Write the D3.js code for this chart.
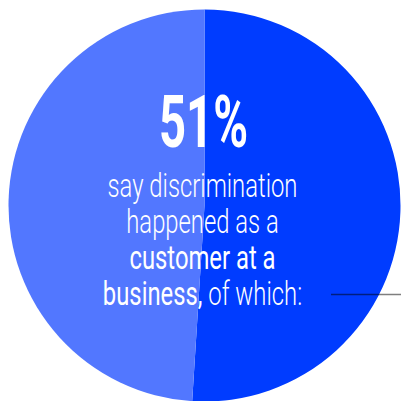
<!DOCTYPE html>
<html>
<head>
<meta charset="utf-8">
<script src="https://cdn.jsdelivr.net/npm/d3@7"></script>
<style>
  html, body { margin: 0; padding: 0; background: #fff; }
  svg { display: block; }
</style>
</head>
<body>
<script>
// Share of respondents: discrimination as a customer vs. elsewhere
const categories = ["As a customer at a business", "Elsewhere"];
const values = [51, 49];
const colors = ["#003cff", "#5277ff"];

const headline = "51%";
// Caption lines; each segment is [text, emphasised?]
const captionLines = [
  [["say discrimination", false]],
  [["happened as a", false]],
  [["customer at a", true]],
  [["business,", true], [" of which:", false]]
];

const W = 401, H = 401;
const cx = 204.5, cy = 205.5, R = 196;

const svg = d3.select("body").append("svg")
  .attr("width", W).attr("height", H);

const pie = d3.pie().sort(null).value(d => d)
  .startAngle(0).endAngle(2 * Math.PI);
const arc = d3.arc().innerRadius(0).outerRadius(R);

const g = svg.append("g").attr("transform", `translate(${cx},${cy})`);
g.selectAll("path")
  .data(pie(values))
  .join("path")
  .attr("d", arc)
  .attr("fill", (d, i) => colors[i]);

// Leader line towards the breakdown on the right
svg.append("line")
  .attr("x1", 331).attr("x2", W)
  .attr("y1", 294.5).attr("y2", 294.5)
  .attr("stroke", "rgba(0,0,0,0.5)")
  .attr("stroke-width", 1.5);

const textX = 202.5;
const fontFamily = "Roboto, 'Liberation Sans', sans-serif";

// Big figure, squeezed to a narrow display width
const big = svg.append("text")
  .attr("text-anchor", "middle")
  .attr("font-family", fontFamily)
  .attr("font-weight", 700)
  .attr("font-size", 72)
  .attr("fill", "#fff")
  .text(headline);
const bigW = big.node().getComputedTextLength();
big.attr("transform", `translate(${textX + 1},147) scale(${89 / bigW},1)`);

// Caption, all lines share one horizontal squeeze
const baselines = [197, 233, 269, 305];
const texts = captionLines.map((segs, i) => {
  const t = svg.append("text")
    .attr("text-anchor", "middle")
    .attr("font-family", fontFamily)
    .attr("font-size", 34)
    .attr("fill", "#fff");
  segs.forEach(([s, strong]) => {
    t.append("tspan")
      .attr("font-weight", strong ? 400 : 300)
      .text(s);
  });
  return t;
});
const condense = 190 / texts[0].node().getComputedTextLength();
texts.forEach((t, i) =>
  t.attr("transform", `translate(${textX},${baselines[i]}) scale(${condense},1)`));
</script>
</body>
</html>
